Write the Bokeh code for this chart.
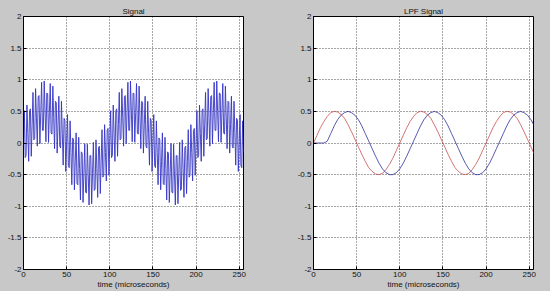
from bokeh.plotting import figure
from bokeh.layouts import row
from bokeh.models import FixedTicker
from bokeh.embed import file_html
from bokeh.resources import INLINE

# ---- data ----
time_us = list(range(256))
signal = [
    0, .51, -.23, -.20, .60, .15, -.29, .51, .54, -.21,
    .29, .80, .05, .07, .86, .40, -.05, .73, .75, -.01,
    .48, .96, .20, .20, .98, .50, .02, .79, .78, .01,
    .48, .94, .16, .14, .90, .40, -.09, .66, .64, -.16,
    .29, .74, -.05, -.08, .66, .15, -.35, .39, .36, -.45,
    0, .45, -.36, -.39, .35, -.15, -.66, .08, .05, -.74,
    -.29, .16, -.64, -.66, .09, -.40, -.90, -.14, -.16, -.94,
    -.48, -.01, -.78, -.79, -.02, -.50, -.98, -.20, -.20, -.96,
    -.48, .01, -.75, -.73, .05, -.40, -.86, -.07, -.05, -.80,
    -.29, .21, -.54, -.51, .29, -.15, -.60, .20, .23, -.51,
    0, .51, -.23, -.20, .60, .15, -.29, .51, .54, -.21,
    .29, .80, .05, .07, .86, .40, -.05, .73, .75, -.01,
    .48, .96, .20, .20, .98, .50, .02, .79, .78, .01,
    .48, .94, .16, .14, .90, .40, -.09, .66, .64, -.16,
    .29, .74, -.05, -.08, .66, .15, -.35, .39, .36, -.45,
    0, .45, -.36, -.39, .35, -.15, -.66, .08, .05, -.74,
    -.29, .16, -.64, -.66, .09, -.40, -.90, -.14, -.16, -.94,
    -.48, -.01, -.78, -.79, -.02, -.50, -.98, -.20, -.20, -.96,
    -.48, .01, -.75, -.73, .05, -.40, -.86, -.07, -.05, -.80,
    -.29, .21, -.54, -.51, .29, -.15, -.60, .20, .23, -.51,
    0, .51, -.23, -.20, .60, .15, -.29, .51, .54, -.21,
    .29, .80, .05, .07, .86, .40, -.05, .73, .75, -.01,
    .48, .96, .20, .20, .98, .50, .02, .79, .78, .01,
    .48, .94, .16, .14, .90, .40, -.09, .66, .64, -.16,
    .29, .74, -.05, -.08, .66, .15, -.35, .39, .36, -.45,
    0, .45, -.36, -.39, .35, -.15,
]

time_lpf = list(range(0, 257, 4))
lpf_input = [
    0, .12, .24, .34, .42, .48, .50, .49, .45, .39, .29, .18, .06,
    -.06, -.18, -.29, -.39, -.45, -.49, -.50, -.48, -.42, -.34, -.24, -.12,
    0, .12, .24, .34, .42, .48, .50, .49, .45, .39, .29, .18, .06,
    -.06, -.18, -.29, -.39, -.45, -.49, -.50, -.48, -.42, -.34, -.24, -.12,
    0, .12, .24, .34, .42, .48, .50, .49, .45, .39, .29, .18, .06,
    -.06, -.18,
]
lpf_output = [
    0, 0, 0, 0,
    .03, .15, .27, .37, .44, .48, .50, .48, .44, .37, .27, .15, .03,
    -.09, -.21, -.32, -.41, -.47, -.50, -.50, -.47, -.41, -.32, -.21, -.09,
    .03, .15, .27, .37, .44, .48, .50, .48, .44, .37, .27, .15, .03,
    -.09, -.21, -.32, -.41, -.47, -.50, -.50, -.47, -.41, -.32, -.21, -.09,
    .03, .15, .27, .37, .44, .48, .50, .48, .44, .37, .27,
]

titles = ["Signal", "LPF Signal"]
x_label = "time (microseconds)"
x_ticks = [0, 50, 100, 150, 200, 250]
y_ticks = [-2, -1.5, -1, -0.5, 0, 0.5, 1, 1.5, 2]
y_tick_labels = ["-2", "-1.5", "-1", "-0.5", "0", "0.5", "1", "1.5", "2"]

BG = "#c8c8c8"
FONT = "Liberation Sans"


def make_fig(title, left, right):
    p = figure(width=275, height=291, x_range=(0, 255), y_range=(-2, 2),
               output_backend="svg", toolbar_location=None,
               min_border_left=left, min_border_right=right,
               min_border_top=16, min_border_bottom=20)
    p.background_fill_color = "white"
    p.border_fill_color = BG
    p.outline_line_color = "black"
    p.outline_line_width = 1
    p.title.text = title
    p.title.align = "center"
    p.title.text_font = FONT
    p.title.text_font_size = "8px"
    p.title.text_font_style = "normal"
    p.title.text_color = "#111111"
    p.title.standoff = 1
    p.title.offset = 0
    for ax in (p.xaxis[0], p.yaxis[0]):
        ax.axis_line_color = "black"
        ax.major_tick_in = 3
        ax.major_tick_out = 0
        ax.minor_tick_in = 0
        ax.minor_tick_out = 0
        ax.major_label_text_font = FONT
        ax.major_label_text_font_size = "8px"
        ax.major_label_text_color = "#111111"
        ax.major_label_standoff = 2
    p.xaxis.ticker = FixedTicker(ticks=x_ticks)
    p.yaxis.ticker = FixedTicker(ticks=y_ticks)
    p.yaxis.major_label_overrides = {v: s for v, s in zip(y_ticks, y_tick_labels)}
    p.xaxis.axis_label = x_label
    p.xaxis.axis_label_text_font = FONT
    p.xaxis.axis_label_text_font_size = "8px"
    p.xaxis.axis_label_text_font_style = "normal"
    p.xaxis.axis_label_text_color = "#111111"
    p.xaxis.axis_label_standoff = 0
    for g in (p.xgrid[0], p.ygrid[0]):
        g.grid_line_color = "black"
        g.grid_line_alpha = 0.7
        g.grid_line_dash = "1 2"
        g.grid_line_width = 1
    return p


p1 = make_fig(titles[0], 23, 32)
p1.line(time_us, signal, line_color="#3434c4", line_width=0.9)

p2 = make_fig(titles[1], 38, 17)
p2.line(time_lpf, lpf_input, line_color="#c85050", line_width=0.8)
p2.line(time_lpf, lpf_output, line_color="#30309a", line_width=0.8)

layout = row(p1, p2, background=BG)
html = file_html(layout, INLINE)
with open("out.html", "w") as f:
    f.write(html)
